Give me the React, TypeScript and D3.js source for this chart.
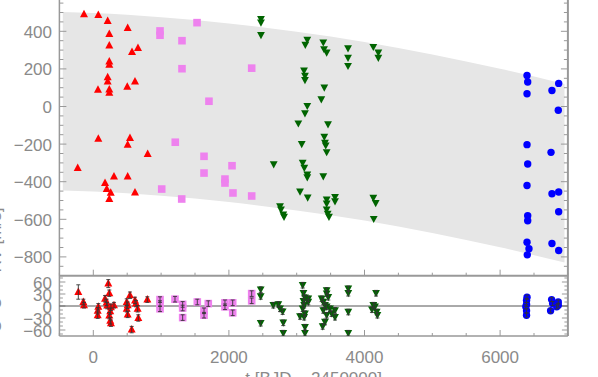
import * as d3 from "d3";

// main panel: [t, rv]
const redPts = [[-137,491],[74,487],[212,455],[507,418],[236,386],[236,325],[659,311],[571,290],[236,240],[236,222],[212,156],[212,133],[69,89],[501,105],[615,133],[236,91],[236,73],[74,-172],[541,-167],[507,-203],[802,-252],[-230,-327],[305,-372],[507,-372],[173,-407],[198,-439],[257,-459],[236,-492],[615,-457]];
const violetPts = [[1530,446],[984,402],[984,379],[1308,350],[1308,201],[1706,28],[2336,204],[1209,-190],[1633,-265],[1633,-354],[2046,-315],[1942,-386],[1942,-407],[2060,-460],[1009,-439],[1304,-492],[2336,-476]];
const greenPts = [[2473,464],[2473,446],[2473,379],[3156,354],[3127,327],[3392,340],[3403,304],[3442,286],[3757,309],[3757,258],[3757,215],[4130,316],[4204,286],[4204,258],[3108,190],[3122,162],[3122,140],[3407,100],[3363,37],[3156,2],[3122,-37],[3024,-91],[3462,-96],[3407,-162],[3417,-194],[3428,-208],[3074,-201],[3442,-244],[2661,-308],[3088,-300],[3112,-327],[3156,-363],[3156,-377],[3392,-372],[3049,-453],[3162,-485],[3442,-496],[3442,-517],[3442,-549],[3457,-571],[3476,-588],[3565,-482],[3565,-505],[4130,-487],[4165,-514],[4136,-599],[2754,-532],[2768,-549],[2802,-576],[2813,-588]];
const bluePts = [[6397,165],[6407,130],[6397,68],[6864,123],[6765,85],[6858,-20],[6397,-203],[6751,-244],[6407,-306],[6397,-420],[6765,-464],[6864,-455],[6864,-560],[6407,-581],[6407,-608],[6397,-722],[6765,-729],[6426,-757],[6401,-789],[6864,-766]];

// residual panel: [t, o-c, err]
const redRes = [[-221,35,18],[-147,10,7],[-137,2,7],[74,-2,8],[65,-12,8],[65,-23,8],[221,56,10],[236,32,8],[173,18,8],[196,9,8],[205,1,8],[260,-3,8],[250,-13,8],[236,-24,8],[250,-37,8],[260,-43,8],[305,2,7],[493,10,8],[507,2,8],[493,-7,8],[541,27,8],[507,-21,8],[566,-59,8],[615,14,8],[630,6,8],[654,-7,8],[664,-30,8],[797,16,7]];
const violetRes = [[984,16,7],[984,6,7],[984,-7,7],[1205,17,7],[1318,4,7],[1318,-5,7],[1318,-29,7],[1534,10,7],[1633,-12,7],[1633,-23,7],[1696,6,7],[1942,8,7],[1942,-2,7],[2056,8,7],[2056,-17,7],[2336,31,7],[2336,13,7]];
const greenRes = [[2469,41,7],[2469,24,7],[2469,-43,7],[2655,2,7],[2729,4,7],[2754,-7,7],[2793,-14,7],[2802,-42,7],[2802,-68,7],[3088,52,7],[3100,32,7],[3122,21,7],[3100,12,7],[3110,2,7],[3088,-7,7],[3122,-19,7],[3110,-28,7],[3049,-26,7],[3122,-53,7],[3122,-68,7],[3171,18,7],[3171,10,7],[3368,18,7],[3392,10,7],[3442,39,7],[3442,31,7],[3466,22,7],[3417,2,7],[3442,-2,7],[3392,-11,7],[3442,-23,7],[3417,-40,7],[3383,-51,7],[3491,-7,7],[3515,-19,7],[3565,-11,7],[3565,-28,7],[3761,43,7],[3761,32,7],[3761,-15,7],[3761,-68,7],[4170,32,7],[4130,2,7],[4155,-2,7],[4110,-9,7],[4180,-15,7],[4190,-23,7]];
const blueRes = [[6397,22,5],[6390,14,5],[6390,4,5],[6380,-2,5],[6390,-12,5],[6390,-23,5],[6760,16,5],[6775,6,5],[6745,-12,5],[6858,10,5],[6858,2,5],[6835,-2,5]];

// model envelope (grey band)
const bandT = [-450, 0, 1000, 2000, 3000, 4000, 5000, 6000, 6950];
const bandHi = [503, 498, 475, 442, 397, 343, 277, 201, 120];
const bandLo = [-447, -452, -475, -508, -553, -607, -673, -749, -830];

const xTicks = [0, 2000, 4000, 6000];
const yMainTicks = [-800, -600, -400, -200, 0, 200, 400, 600];
const yResTicks = [-60, -30, 0, 30, 60];

const W = 598, H = 377;
const L = 59.4, R = 567.9;
const x = d3.scaleLinear().domain([-500, 7000]).range([L, R]);
const yMain = d3.scaleLinear().domain([-900, 700]).range([275.7, -25.1]);
const yRes = d3.scaleLinear().domain([-75, 75]).range([336, 276]);

const axisCol = "#999";
const labCol = "#8a8a8a";
const font = "'Liberation Sans', Arial, sans-serif";

function marker(kind, cx, cy, key) {
  if (kind === "up")
    return <path key={key} d={`M${cx},${cy - 4.5}L${cx + 4},${cy + 3}L${cx - 4},${cy + 3}Z`} fill="#ff0000" />;
  if (kind === "down")
    return <path key={key} d={`M${cx},${cy + 4}L${cx + 3.9},${cy - 3.2}L${cx - 3.9},${cy - 3.2}Z`} fill="#006400" />;
  if (kind === "sq")
    return <rect key={key} x={cx - 3.8} y={cy - 3.8} width={7.6} height={7.6} fill="#ee82ee" />;
  return <circle key={key} cx={cx} cy={cy} r={3.7} fill="#0000ff" />;
}

const mainSeries = [["up", redPts], ["sq", violetPts], ["down", greenPts], ["dot", bluePts]];
const resSeries = [["up", redRes], ["sq", violetRes], ["down", greenRes], ["dot", blueRes]];

export default function App() {
  const band = d3.area()
    .x((_, i) => x(bandT[i]))
    .y0((_, i) => yMain(bandLo[i]))
    .y1((_, i) => yMain(bandHi[i]))
    .curve(d3.curveMonotoneX)(bandT);

  const xMinor = d3.range(-500, 7001, 500);
  const yMainMinor = d3.range(-900, 701, 50);
  const yResMinor = d3.range(-70, 71, 10);

  return (
    <svg width={W} height={H} style={{ position: "absolute", left: 0, top: 0, background: "#fff" }}
      fontFamily={font}>
      <defs>
        <clipPath id="resclip"><rect x={L} y={276} width={R - L} height={60} /></clipPath>
      </defs>
      <path d={band} fill="#e6e6e6" />

      {mainSeries.map(([k, pts], si) => pts.map((p, i) => marker(k, x(p[0]), yMain(p[1]), `m${si}-${i}`)))}

      {/* main panel axes */}
      <g stroke={axisCol} fill="none">
        <line x1={L} x2={L} y1={-30} y2={336} strokeWidth={1.5} />
        <line x1={R} x2={R} y1={-30} y2={336} strokeWidth={2} />
        <line x1={L} x2={R} y1={275.7} y2={275.7} strokeWidth={2} />
        <line x1={L} x2={R} y1={336} y2={336} strokeWidth={1.5} />
        {yMainMinor.map(v => {
          const maj = v % 200 === 0;
          const len = maj ? 7 : 4;
          return <g key={"ym" + v}>
            <line x1={L} x2={L + len} y1={yMain(v)} y2={yMain(v)} />
            <line x1={R} x2={R - len} y1={yMain(v)} y2={yMain(v)} />
          </g>;
        })}
        {xMinor.map(v => {
          const len = v % 2000 === 0 ? 6 : 3;
          return <g key={"xm" + v}>
            <line x1={x(v)} x2={x(v)} y1={275.7} y2={275.7 - len} />
            <line x1={x(v)} x2={x(v)} y1={336} y2={336 - len} />
          </g>;
        })}
        {yResMinor.map(v => {
          const len = v % 30 === 0 ? 6 : 3.5;
          return <g key={"yr" + v}>
            <line x1={L} x2={L + len} y1={yRes(v)} y2={yRes(v)} />
            <line x1={R} x2={R - len} y1={yRes(v)} y2={yRes(v)} />
          </g>;
        })}
      </g>
      <line x1={L} x2={R} y1={yRes(0)} y2={yRes(0)} stroke="#555" strokeWidth={1} />

      <g clipPath="url(#resclip)">
        {resSeries.map(([k, pts], si) => pts.map((p, i) => marker(k, x(p[0]), yRes(p[1]), `r${si}-${i}`)))}
        <g stroke="#333" strokeWidth={0.9}>
          {resSeries.map(([, pts], si) => pts.map((p, i) => {
            const cx = x(p[0]);
            const y1 = yRes(p[1] - p[2]), y2 = yRes(p[1] + p[2]);
            return <g key={`e${si}-${i}`}>
              <line x1={cx} x2={cx} y1={y1} y2={y2} />
              <line x1={cx - 2} x2={cx + 2} y1={y1} y2={y1} />
              <line x1={cx - 2} x2={cx + 2} y1={y2} y2={y2} />
            </g>;
          }))}
        </g>
      </g>

      {/* labels */}
      <g fill={labCol} fontSize={17} textAnchor="end">
        {yMainTicks.map(v => (
          <text key={"lm" + v} x={52} y={yMain(v) + 6.5}>{v < 0 ? "\u2212" + Math.abs(v) : v}</text>
        ))}
        {yResTicks.map(v => (
          <text key={"lr" + v} x={52} y={yRes(v) + 6.5}>{v < 0 ? "\u2212" + Math.abs(v) : v}</text>
        ))}
      </g>
      <g fill={labCol} fontSize={17} textAnchor="middle">
        {xTicks.map(v => (
          <text key={"lx" + v} x={x(v)} y={363}>{v}</text>
        ))}
        <text x={(L + R) / 2} y={384}>t [BJD − 2450000]</text>
        <text transform="translate(1,240) rotate(-90)">RV [m/s]</text>
        <text transform="translate(1,315) rotate(-90)">O−C</text>
      </g>
    </svg>
  );
}
